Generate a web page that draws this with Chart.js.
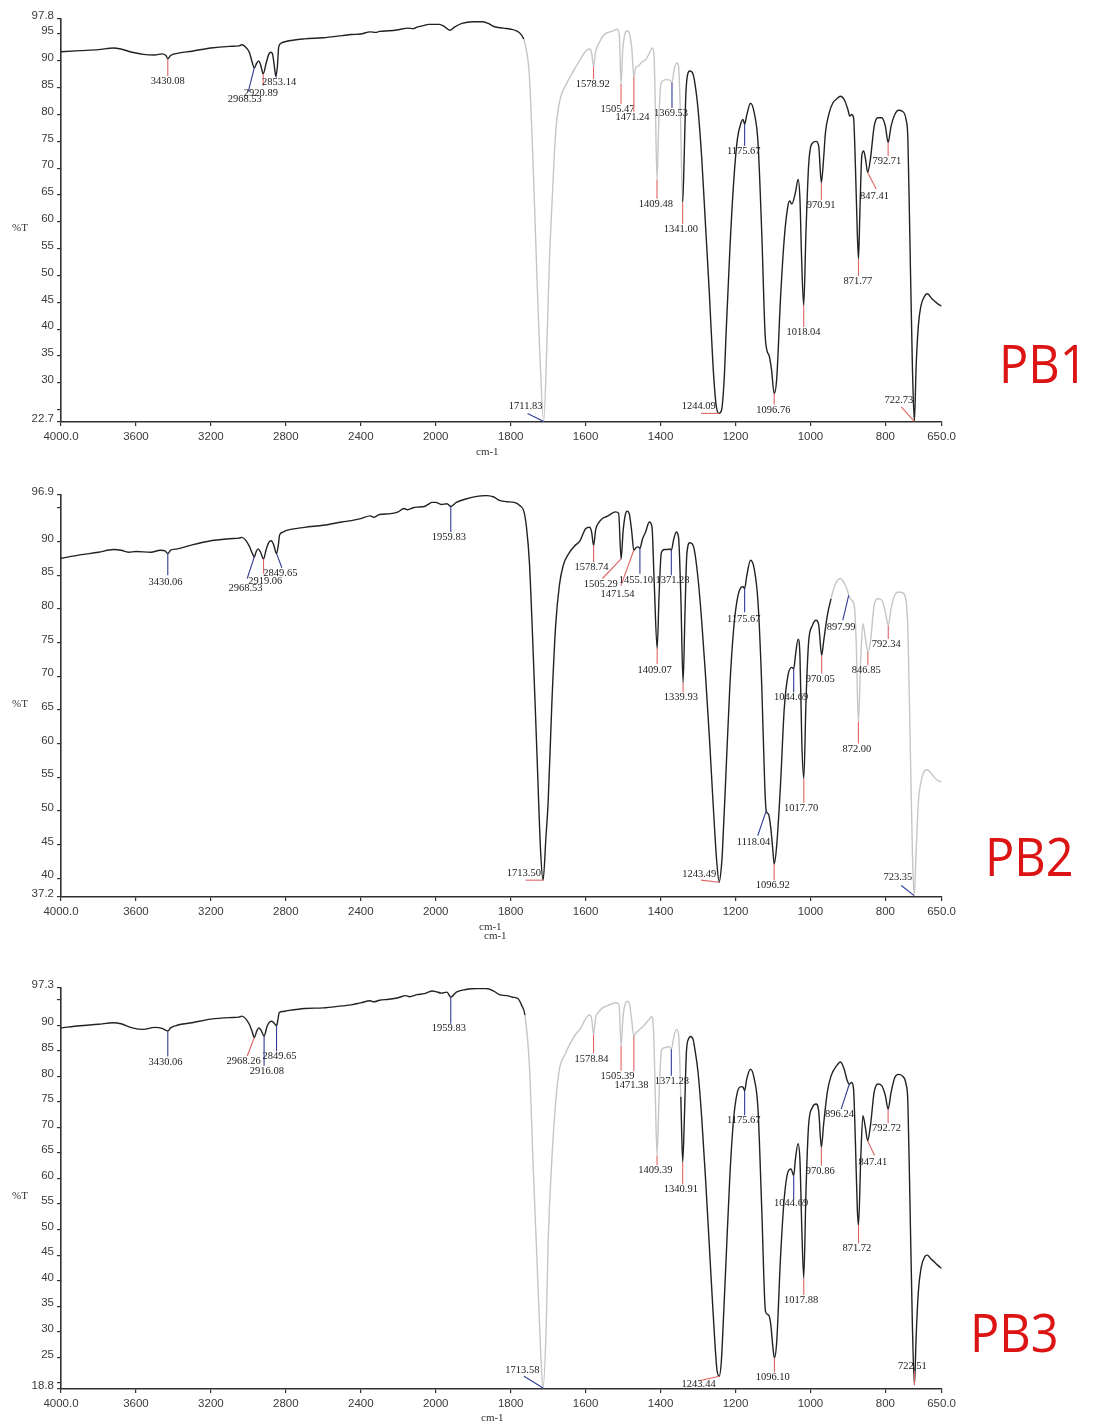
<!DOCTYPE html>
<html>
<head>
<meta charset="utf-8">
<title>FTIR spectra PB1 / PB2 / PB3</title>
<script src="https://cdn.jsdelivr.net/npm/chart.js@4/dist/chart.umd.min.js"></script>
<style>
  html, body { margin: 0; padding: 0; background: #fff; }
  #page { position: relative; width: 1093px; height: 1424px; overflow: hidden; background: #fff; }
  #page canvas { position: absolute; left: 0; }
  .sample {
    position: absolute; color: #dc1414; line-height: 1; white-space: nowrap;
    font-family: "Open Sans", "Noto Sans", sans-serif; font-size: 53px;
    transform: scaleX(0.92); transform-origin: left top;
  }
</style>
</head>
<body>
<div id="page">
  <canvas id="pb1" width="960" height="462" style="top:0px"></canvas>
  <canvas id="pb2" width="960" height="470" style="top:470px"></canvas>
  <canvas id="pb3" width="960" height="464" style="top:960px"></canvas>
  <div class="sample" style="left:999px; top:336px">PB1</div>
  <div class="sample" style="left:985px; top:829px">PB2</div>
  <div class="sample" style="left:970px; top:1305px">PB3</div>
</div>
<script>
// ---------------- data ----------------
// wavenumber axis ticks (cm-1)
const xTickValues = [4000, 3600, 3200, 2800, 2400, 2000, 1800, 1600, 1400, 1200, 1000, 800, 650];
const xTickLabels = ['4000.0', '3600', '3200', '2800', '2400', '2000', '1800', '1600', '1400', '1200', '1000', '800', '650.0'];

// %T axis ticks, one set per spectrum ('' = tick without a label)
const pb1YTicks  = [97.8, 95, 90, 85, 80, 75, 70, 65, 60, 55, 50, 45, 40, 35, 30, 25, 22.7];
const pb1YLabels = ['97.8', '95', '90', '85', '80', '75', '70', '65', '60', '55', '50', '45', '40', '35', '30', '', '22.7'];
const pb2YTicks  = [96.9, 95, 90, 85, 80, 75, 70, 65, 60, 55, 50, 45, 40, 37.2];
const pb2YLabels = ['96.9', '', '90', '85', '80', '75', '70', '65', '60', '55', '50', '45', '40', '37.2'];
const pb3YTicks  = [97.3, 95, 90, 85, 80, 75, 70, 65, 60, 55, 50, 45, 40, 35, 30, 25, 20, 18.8];
const pb3YLabels = ['97.3', '', '90', '85', '80', '75', '70', '65', '60', '55', '50', '45', '40', '35', '30', '25', '', '18.8'];

// spectra: [wavenumber cm-1, %T]
const pb1Spectrum = [
  [4000, 91.7], [3900, 91.9], [3800, 92.1], [3720, 92.4], [3680, 92.2], [3620, 91.6], [3560, 91.2],
  [3500, 91.1], [3460, 91.3], [3440, 91.0], [3430.08, 90.4], [3415, 91.0], [3380, 91.4], [3300, 91.8],
  [3200, 92.4], [3100, 92.7], [3050, 92.8], [3035, 93.0], [3015, 92.6], [2995, 91.6], [2980, 89.8],
  [2968.53, 88.7], [2955, 89.6], [2945, 90.0], [2935, 89.3], [2920.89, 87.6], [2905, 89.6], [2890, 91.3],
  [2880, 91.6], [2870, 91.1], [2860, 88.6], [2853.14, 87.1], [2845, 89.0], [2838, 92.6], [2825, 93.3],
  [2800, 93.6], [2700, 94.1], [2600, 94.3], [2500, 94.7], [2450, 94.9], [2400, 95.0], [2350, 95.4],
  [2320, 95.3], [2300, 95.5], [2250, 95.6], [2200, 95.8], [2150, 96.1], [2120, 96.0], [2100, 96.3],
  [2060, 96.6], [2040, 96.8], [2010, 96.8], [1990, 96.8], [1975, 96.3], [1962, 95.7], [1950, 96.3],
  [1930, 97.0], [1900, 97.3], [1875, 97.3], [1860, 97.0], [1845, 96.4], [1820, 96.1], [1800, 95.9],
  [1785, 95.6], [1772, 94.9], [1765, 94.0], [1758, 92.0], [1750, 87.1], [1740, 70.4], [1730, 50.0],
  [1722, 35.0], [1711.83, 22.8], [1703, 38.0], [1697, 52.0], [1690, 63.0], [1680, 76.6], [1670, 82.2],
  [1650, 85.9], [1630, 88.4], [1615, 90.2], [1600, 91.8], [1590, 92.2], [1584, 91.5], [1578.92, 89.0],
  [1573, 91.8], [1565, 93.2], [1550, 94.9], [1530, 95.5], [1515, 95.9], [1510, 94.8], [1505.47, 85.7],
  [1501, 92.0], [1495, 95.0], [1489, 95.6], [1483, 95.0], [1477, 92.5], [1471.24, 87.1], [1466, 88.8],
  [1460, 89.0], [1450, 89.8], [1440, 90.2], [1430, 91.4], [1423, 92.4], [1418, 91.5], [1414, 82.0],
  [1409.48, 67.9], [1405, 78.0], [1400, 85.3], [1395, 86.2], [1385, 86.5], [1375, 86.4], [1369.53, 85.9],
  [1364, 88.3], [1357, 89.6], [1352, 89.0], [1347, 80.0], [1341.00, 63.6], [1337, 72.0], [1333, 83.0],
  [1328, 87.4], [1322, 88.1], [1315, 87.8], [1310, 86.5], [1300, 81.0], [1290, 71.7], [1280, 59.3],
  [1270, 46.9], [1260, 33.2], [1252, 26.0], [1244.09, 24.3], [1237, 25.0], [1230, 31.0], [1225, 39.4],
  [1215, 54.9], [1205, 67.3], [1195, 75.4], [1185, 78.5], [1180, 79.1], [1175.67, 78.2], [1170, 79.9],
  [1160, 82.1], [1150, 80.3], [1140, 74.8], [1130, 58.0], [1121, 39.0], [1116, 36.0], [1110, 35.0],
  [1104, 32.5], [1096.76, 28.0], [1090, 30.8], [1080, 45.6], [1070, 56.8], [1060, 63.0], [1055, 63.9],
  [1050, 63.3], [1040, 65.5], [1033, 67.9], [1028, 64.2], [1024, 54.0], [1018.04, 44.4], [1012, 58.0],
  [1005, 70.4], [998, 74.3], [985, 75.0], [978, 74.1], [970.91, 67.3], [965, 71.7], [960, 76.6],
  [950, 80.3], [940, 82.2], [930, 82.9], [920, 83.4], [910, 82.8], [900, 80.9], [895, 79.7], [890, 80.0],
  [885, 79.4], [880, 70.4], [875, 58.0], [871.77, 53.1], [868, 62.0], [863, 72.3], [858, 73.2],
  [853, 71.7], [847.41, 69.2], [840, 71.7], [830, 77.8], [820, 79.4], [810, 79.4], [800, 77.8],
  [792.71, 74.8], [785, 77.8], [775, 80.0], [765, 80.8], [755, 80.6], [745, 79.1], [740, 75.4],
  [735, 58.0], [728, 33.2], [722.73, 22.8], [718, 33.0], [712, 40.7], [705, 44.4], [695, 46.2],
  [688, 46.6], [675, 45.6], [660, 44.7], [650, 44.3]
];

const pb2Spectrum = [
  [4000, 87.5], [3900, 88.0], [3800, 88.4], [3720, 88.8], [3680, 88.7], [3640, 88.4], [3600, 88.5],
  [3520, 88.4], [3470, 88.7], [3445, 88.6], [3430.06, 88.2], [3415, 88.7], [3380, 88.9], [3300, 89.5],
  [3200, 90.1], [3100, 90.4], [3050, 90.5], [3035, 90.6], [3015, 90.2], [2995, 89.3], [2980, 88.3],
  [2968.53, 87.7], [2958, 88.5], [2948, 88.9], [2935, 88.4], [2919.06, 87.4], [2905, 88.8], [2890, 89.9],
  [2878, 90.1], [2866, 89.6], [2849.65, 88.2], [2840, 89.5], [2833, 91.0], [2815, 91.4], [2800, 91.6],
  [2700, 92.1], [2600, 92.4], [2500, 92.9], [2450, 93.1], [2400, 93.4], [2350, 93.8], [2330, 93.6],
  [2300, 94.0], [2250, 94.1], [2200, 94.4], [2170, 94.9], [2150, 94.7], [2120, 95.0], [2100, 95.1],
  [2060, 95.2], [2040, 95.5], [2020, 95.8], [2000, 95.8], [1985, 95.5], [1970, 95.6], [1959.83, 95.2],
  [1945, 95.8], [1920, 96.3], [1890, 96.7], [1865, 96.8], [1845, 96.6], [1830, 96.1], [1810, 95.9],
  [1790, 95.8], [1775, 95.3], [1765, 94.5], [1758, 92.2], [1750, 86.9], [1740, 73.6], [1730, 58.7],
  [1720, 43.9], [1713.50, 39.7], [1706, 46.0], [1700, 51.3], [1690, 66.1], [1680, 77.5], [1670, 83.5],
  [1660, 86.4], [1645, 88.2], [1630, 89.3], [1615, 90.1], [1600, 91.9], [1590, 92.1], [1584, 91.4],
  [1578.74, 89.4], [1573, 91.8], [1565, 92.8], [1555, 93.4], [1540, 93.8], [1520, 94.4], [1512, 94.2],
  [1505.29, 87.4], [1500, 91.5], [1494, 94.0], [1489, 94.5], [1483, 94.0], [1477, 91.5], [1471.54, 88.7],
  [1465, 89.1], [1460, 89.2], [1455.10, 89.0], [1448, 90.4], [1440, 91.4], [1430, 92.9], [1423, 92.2],
  [1417, 84.0], [1409.07, 74.1], [1404, 82.0], [1398, 88.3], [1390, 88.8], [1380, 88.8], [1375, 88.9],
  [1371.28, 88.7], [1365, 90.3], [1358, 91.4], [1352, 90.6], [1346, 82.0], [1339.93, 69.1], [1335, 79.0],
  [1330, 88.0], [1322, 89.8], [1315, 89.6], [1310, 88.8], [1300, 84.5], [1290, 78.0], [1280, 70.1],
  [1270, 61.2], [1260, 51.3], [1250, 42.4], [1243.49, 39.4], [1238, 41.5], [1235, 43.9], [1225, 56.2],
  [1215, 68.6], [1205, 77.0], [1195, 81.5], [1185, 83.2], [1180, 83.3], [1175.67, 83.0], [1170, 84.9],
  [1160, 87.2], [1150, 85.9], [1140, 81.0], [1130, 68.6], [1122, 53.8], [1118.04, 50.0], [1112, 49.5],
  [1106, 47.5], [1100, 43.9], [1096.92, 42.1], [1090, 44.9], [1080, 53.8], [1070, 65.1], [1060, 70.1],
  [1050, 71.3], [1044.69, 71.1], [1040, 73.1], [1033, 75.5], [1028, 73.0], [1023, 60.0], [1017.70, 54.8],
  [1012, 66.1], [1005, 75.0], [995, 77.5], [985, 78.3], [978, 77.6], [970.05, 73.1], [965, 75.1],
  [955, 79.0], [945, 81.5], [935, 83.5], [920, 84.5], [910, 83.8], [900, 82.5], [897.99, 82.0],
  [890, 81.3], [882, 80.0], [878, 75.0], [872.00, 63.2], [866, 72.3], [860, 77.8], [853, 75.5],
  [846.85, 73.6], [840, 75.1], [830, 80.5], [820, 81.5], [810, 81.3], [800, 79.5], [792.34, 77.5],
  [785, 80.0], [775, 82.0], [765, 82.5], [755, 82.4], [745, 81.2], [740, 77.0], [735, 63.7],
  [728, 43.9], [723.35, 37.4], [718, 43.9], [712, 51.3], [705, 54.3], [695, 56.0], [690, 56.1],
  [680, 55.7], [670, 55.0], [660, 54.5], [650, 54.3]
];

const pb3Spectrum = [
  [4000, 89.5], [3900, 89.9], [3800, 90.2], [3720, 90.5], [3680, 90.3], [3620, 89.5], [3560, 89.2],
  [3500, 89.6], [3460, 89.4], [3430.06, 88.9], [3415, 89.5], [3380, 90.0], [3300, 90.5], [3200, 91.2],
  [3100, 91.5], [3050, 91.6], [3035, 91.8], [3015, 91.3], [2995, 90.2], [2980, 88.8], [2968.26, 87.6],
  [2955, 88.9], [2945, 89.5], [2932, 89.0], [2916.08, 87.9], [2900, 89.8], [2885, 90.7], [2875, 90.8],
  [2862, 90.4], [2849.65, 89.9], [2842, 91.2], [2835, 92.5], [2815, 92.7], [2800, 92.8], [2700, 93.3],
  [2600, 93.4], [2500, 93.8], [2450, 94.0], [2400, 94.4], [2350, 94.8], [2330, 94.6], [2300, 94.9],
  [2250, 95.1], [2200, 95.4], [2160, 95.8], [2140, 95.6], [2100, 96.0], [2060, 96.2], [2040, 96.5],
  [2020, 96.7], [2000, 96.6], [1985, 96.3], [1970, 96.5], [1959.83, 95.5], [1945, 96.5], [1920, 97.0],
  [1890, 97.2], [1865, 97.2], [1845, 96.7], [1830, 96.0], [1810, 95.8], [1795, 95.5], [1780, 95.2],
  [1770, 93.8], [1762, 92.0], [1750, 82.1], [1740, 62.6], [1730, 44.4], [1720, 26.2], [1713.58, 19.0],
  [1705, 31.4], [1700, 47.6], [1690, 63.9], [1680, 74.9], [1670, 81.4], [1655, 84.3], [1640, 86.6],
  [1625, 88.4], [1615, 89.2], [1600, 91.3], [1590, 92.0], [1584, 91.3], [1578.84, 88.2], [1573, 91.6],
  [1565, 92.6], [1555, 93.4], [1540, 93.9], [1520, 94.4], [1511, 94.1], [1505.39, 86.0], [1500, 91.8],
  [1494, 94.3], [1489, 94.7], [1483, 94.2], [1477, 91.0], [1471.38, 87.9], [1466, 88.5], [1460, 88.9],
  [1445, 89.9], [1430, 91.2], [1424, 91.7], [1419, 89.5], [1414, 76.0], [1409.39, 64.5], [1404, 76.0],
  [1398, 85.0], [1390, 85.6], [1380, 85.8], [1375, 85.7], [1371.28, 85.3], [1365, 87.6], [1358, 89.2],
  [1352, 88.3], [1346, 76.0], [1340.91, 63.2], [1336, 73.0], [1331, 84.8], [1325, 87.4], [1320, 87.8],
  [1313, 87.2], [1310, 86.0], [1300, 80.8], [1290, 71.7], [1280, 60.0], [1270, 47.0], [1260, 34.0],
  [1250, 22.9], [1243.44, 21.3], [1238, 24.0], [1235, 28.1], [1225, 44.4], [1215, 60.6], [1205, 71.7],
  [1195, 76.9], [1185, 78.0], [1180, 77.9], [1175.67, 77.2], [1170, 79.5], [1160, 81.4], [1150, 79.5],
  [1140, 73.6], [1130, 54.1], [1120, 34.0], [1112, 33.3], [1106, 31.5], [1100, 26.8], [1096.10, 24.9],
  [1090, 28.1], [1080, 44.4], [1070, 56.1], [1060, 61.3], [1052, 61.9], [1044.69, 60.6], [1040, 63.9],
  [1033, 66.8], [1028, 63.5], [1023, 50.0], [1017.88, 40.5], [1012, 57.4], [1005, 70.4], [995, 73.9],
  [985, 74.6], [978, 73.2], [970.86, 66.1], [965, 70.5], [955, 76.9], [945, 80.1], [930, 82.1],
  [920, 82.8], [910, 81.4], [902, 79.2], [896.24, 78.5], [890, 78.8], [885, 77.5], [880, 67.1],
  [875, 54.1], [871.72, 50.9], [866, 63.5], [860, 72.3], [853, 69.8], [847.41, 67.4], [840, 70.3],
  [830, 76.9], [820, 78.5], [810, 78.2], [800, 76.2], [792.72, 73.6], [785, 76.8], [775, 79.8],
  [765, 80.4], [755, 80.1], [745, 78.5], [740, 74.9], [735, 57.4], [728, 31.4], [722.51, 19.6],
  [718, 29.0], [712, 37.9], [705, 42.4], [695, 44.7], [688, 45.0], [680, 44.4], [670, 43.7],
  [660, 43.0], [650, 42.4]
];

// picked peaks (cm-1)
const pb1Peaks = [3430.08, 2968.53, 2920.89, 2853.14, 1711.83, 1578.92, 1505.47, 1471.24, 1409.48, 1369.53,
                  1341.00, 1244.09, 1175.67, 1096.76, 1018.04, 970.91, 871.77, 847.41, 792.71, 722.73];
const pb2Peaks = [3430.06, 2968.53, 2919.06, 2849.65, 1959.83, 1713.50, 1578.74, 1505.29, 1471.54, 1455.10,
                  1409.07, 1371.28, 1339.93, 1243.49, 1175.67, 1118.04, 1096.92, 1044.69, 1017.70, 970.05,
                  897.99, 872.00, 846.85, 792.34, 723.35];
const pb3Peaks = [3430.06, 2968.26, 2916.08, 2849.65, 1959.83, 1713.58, 1578.84, 1505.39, 1471.38, 1409.39,
                  1371.28, 1340.91, 1243.44, 1175.67, 1096.10, 1044.69, 1017.88, 970.86, 896.24, 871.72,
                  847.41, 792.72, 722.51];

// ---------------- peak-label layout (leader end and label anchor, in axis units) ----------------
// [leader end cm-1, leader end %T, label cm-1, label %T, colour]
const pb1PeakLayout = [
  [3430.08, 87.2, 3430.08, 86.2, 'r'], [3000, 84.3, 3019, 82.9, 'b'], [2920.89, 85.4, 2933, 84.0, 'r'],
  [2848, 86.9, 2836, 86.0, 'b'], [1755, 24.3, 1760, 25.7, 'b'], [1578.92, 86.6, 1581, 85.6, 'r'],
  [1505.47, 82.0, 1515, 80.9, 'r'], [1471.24, 80.5, 1475, 79.4, 'r'], [1409.48, 64.3, 1412.5, 63.3, 'r'],
  [1369.53, 81.2, 1372, 80.3, 'b'], [1341.00, 59.6, 1345.7, 58.6, 'r'], [1292, 24.3, 1298, 25.7, 'r'],
  [1175.67, 74.2, 1178, 73.2, 'b'], [1096.76, 25.9, 1099, 24.9, 'r'], [1018.04, 40.4, 1018.7, 39.4, 'r'],
  [970.91, 64.1, 971.5, 63.1, 'r'], [871.77, 49.9, 873.5, 48.9, 'r'], [824.5, 66.1, 829, 64.8, 'r'],
  [792.71, 72.2, 796, 71.2, 'r'], [757.7, 25.5, 764, 26.7, 'r']
];
const pb2PeakLayout = [
  [3430.06, 85.0, 3442, 83.9, 'b'], [3006, 84.5, 3015, 83.0, 'b'], [2919.06, 85.2, 2910, 84.1, 'r'],
  [2821, 86.1, 2829, 85.3, 'b'], [1959.83, 91.4, 1964.8, 90.6, 'b'], [1760, 39.7, 1764.8, 40.8, 'r'],
  [1578.74, 86.9, 1584.4, 86.2, 'r'], [1555, 84.5, 1559.5, 83.7, 'r'], [1506, 83.4, 1515, 82.2, 'r'],
  [1455.10, 85.2, 1466, 84.2, 'b'], [1409.07, 71.8, 1416, 70.8, 'r'], [1371.28, 85.0, 1368, 84.2, 'b'],
  [1339.93, 67.6, 1345.7, 66.9, 'r'], [1292, 39.7, 1296.7, 40.6, 'r'], [1175.67, 79.5, 1178, 78.5, 'b'],
  [1140.8, 46.3, 1152, 45.3, 'b'], [1096.92, 39.7, 1100.7, 38.9, 'r'], [1044.69, 67.6, 1051.7, 66.9, 'b'],
  [1017.70, 51.2, 1025, 50.4, 'r'], [970.05, 70.4, 974, 69.6, 'r'], [913.6, 78.3, 918, 77.3, 'b'],
  [872.00, 60.0, 876, 59.2, 'r'], [846.85, 71.6, 851, 70.8, 'r'], [792.34, 75.5, 797.8, 74.8, 'r'],
  [757.7, 38.9, 766.6, 40.1, 'b']
];
const pb3PeakLayout = [
  [3430.06, 83.9, 3442, 82.8, 'b'], [3006, 84.0, 3025, 83.0, 'r'], [2916.08, 82.1, 2901, 81.1, 'b'],
  [2849.65, 84.9, 2834, 84.0, 'b'], [1959.83, 90.3, 1965, 89.4, 'b'], [1764.4, 21.3, 1768.8, 22.4, 'b'],
  [1578.84, 84.5, 1584.4, 83.4, 'r'], [1505.39, 81.1, 1515, 80.1, 'r'], [1471.38, 81.0, 1477.5, 78.2, 'r'],
  [1409.39, 62.6, 1414, 61.6, 'r'], [1371.28, 80.1, 1369.7, 79.1, 'b'], [1340.91, 58.9, 1345.7, 58.0, 'r'],
  [1296.7, 20.4, 1298.4, 19.7, 'r'], [1175.67, 72.4, 1178, 71.5, 'b'], [1096.10, 22.1, 1100.7, 21.1, 'r'],
  [1044.69, 55.9, 1051.7, 55.1, 'b'], [1017.88, 37.2, 1025, 36.2, 'r'], [970.86, 62.5, 974, 61.5, 'r'],
  [918, 73.6, 922.5, 72.6, 'b'], [871.72, 47.3, 876, 46.3, 'r'], [829, 64.5, 833.4, 63.2, 'r'],
  [792.72, 70.8, 797, 69.8, 'r'], [722.51, 22.3, 728, 23.2, 'r']
];

// ---------------- wavenumber scale: 2x expanded below 2000 cm-1 ----------------
const BREAK = 2000;
const squeeze = v => (v > BREAK ? BREAK + (v - BREAK) / 2 : v);
const unsqueeze = u => (u > BREAK ? BREAK + (u - BREAK) * 2 : u);

class WavenumberScale extends Chart.LinearScale {
  getPixelForValue(value) {
    if (value === null || value === undefined || isNaN(value)) return NaN;
    const a = squeeze(this.min), b = squeeze(this.max);
    return this.getPixelForDecimal((squeeze(value) - a) / (b - a));
  }
  getValueForPixel(pixel) {
    const a = squeeze(this.min), b = squeeze(this.max);
    return unsqueeze(a + this.getDecimalForPixel(pixel) * (b - a));
  }
}
WavenumberScale.id = 'wavenumber';
WavenumberScale.defaults = {};
Chart.register(WavenumberScale);

// ---------------- drawing ----------------
const INK = '#222222';
const LIGHT_INK = '#c6c6c6';
const AXIS = '#303030';
const RED = '#e06464';
const BLUE = '#2f3c96';
const TICK_FONT = { family: '"Liberation Sans", Arial, sans-serif', size: 11.5 };
const PEAK_FONT = '10.5px "Liberation Serif", "Times New Roman", serif';
const TITLE_FONT = '11px "Liberation Serif", "Times New Roman", serif';

const peakLabels = {
  id: 'peakLabels',
  afterDatasetsDraw(chart, args, opts) {
    const { ctx, scales: { x, y } } = chart;
    const pts = chart.data.datasets[0].data;
    ctx.save();
    ctx.font = PEAK_FONT;
    ctx.textAlign = 'center';
    ctx.textBaseline = 'middle';
    opts.peaks.forEach((wn, i) => {
      const [ex, ey, lx, ly, c] = opts.layout[i];
      const p = pts.find(d => d.x === wn);
      ctx.strokeStyle = c === 'b' ? BLUE : RED;
      ctx.lineWidth = 1.1;
      ctx.beginPath();
      ctx.moveTo(x.getPixelForValue(wn), y.getPixelForValue(p.y));
      ctx.lineTo(x.getPixelForValue(ex), y.getPixelForValue(ey));
      ctx.stroke();
      ctx.fillStyle = INK;
      ctx.fillText(wn.toFixed(2), x.getPixelForValue(lx), y.getPixelForValue(ly));
    });
    ctx.restore();
  },
  afterDraw(chart, args, opts) {
    const { ctx, chartArea: a } = chart;
    ctx.save();
    ctx.font = TITLE_FONT;
    ctx.fillStyle = '#333';
    ctx.textAlign = 'center';
    ctx.textBaseline = 'middle';
    ctx.fillText('%T', 20, (a.top + a.bottom) / 2 + 8);
    opts.unitOffsets.forEach(([dx, dy]) => {
      ctx.fillText('cm-1', (a.left + a.right) / 2 + dx, a.bottom + dy);
    });
    ctx.restore();
  }
};

function drawSpectrum(id, spectrum, yTicks, yLabels, peaks, layout, frame) {
  const points = spectrum.map(([w, t]) => ({ x: w, y: t }));
  const [lo, hi] = frame.light;
  return new Chart(document.getElementById(id), {
    type: 'line',
    data: {
      datasets: [{
        data: points,
        borderColor: INK,
        borderWidth: 1.4,
        pointRadius: 0,
        fill: false,
        cubicInterpolationMode: 'monotone',
        segment: {
          borderColor: s => (s.p0.parsed.x <= hi && s.p1.parsed.x >= lo ? LIGHT_INK : INK)
        }
      }]
    },
    options: {
      responsive: false,
      animation: false,
      events: [],
      layout: { padding: { top: frame.top, right: 18, left: 0, bottom: 0 } },
      plugins: {
        legend: { display: false },
        tooltip: { enabled: false },
        peakLabels: { peaks, layout, unitOffsets: frame.units }
      },
      scales: {
        x: {
          type: 'wavenumber',
          reverse: true,
          min: 650,
          max: 4000,
          bounds: 'data',
          afterBuildTicks: s => { s.ticks = xTickValues.map(v => ({ value: v })); },
          afterFit: s => { s.height = frame.axisH; },
          ticks: {
            autoSkip: false, maxRotation: 0, padding: 4, color: '#3a3a3a', font: TICK_FONT,
            callback: (v, i) => xTickLabels[i]
          },
          grid: { drawOnChartArea: false, drawTicks: true, tickLength: 4, color: AXIS, lineWidth: 1.2 },
          border: { display: true, color: AXIS, width: 1.6 }
        },
        y: {
          type: 'linear',
          min: yTicks[yTicks.length - 1],
          max: yTicks[0],
          bounds: 'data',
          afterBuildTicks: s => { s.ticks = yTicks.map(v => ({ value: v })); },
          afterFit: s => { s.width = 61; },
          ticks: {
            autoSkip: false, padding: 3, labelOffset: -3, color: '#3a3a3a', font: TICK_FONT,
            callback: (v, i) => yLabels[i]
          },
          grid: { drawOnChartArea: false, drawTicks: true, tickLength: 4, color: AXIS, lineWidth: 1.2 },
          border: { display: true, color: AXIS, width: 1.6 }
        }
      }
    },
    plugins: [peakLabels]
  });
}

drawSpectrum('pb1', pb1Spectrum, pb1YTicks, pb1YLabels, pb1Peaks, pb1PeakLayout,
  { top: 19, axisH: 40, light: [1341, 1766], units: [[-14, 30]] });
drawSpectrum('pb2', pb2Spectrum, pb2YTicks, pb2YLabels, pb2Peaks, pb2PeakLayout,
  { top: 25, axisH: 43, light: [650, 950], units: [[-11, 30], [-6, 39]] });
drawSpectrum('pb3', pb3Spectrum, pb3YTicks, pb3YLabels, pb3Peaks, pb3PeakLayout,
  { top: 28, axisH: 35, light: [1341, 1766], units: [[-9, 29]] });
</script>
</body>
</html>
